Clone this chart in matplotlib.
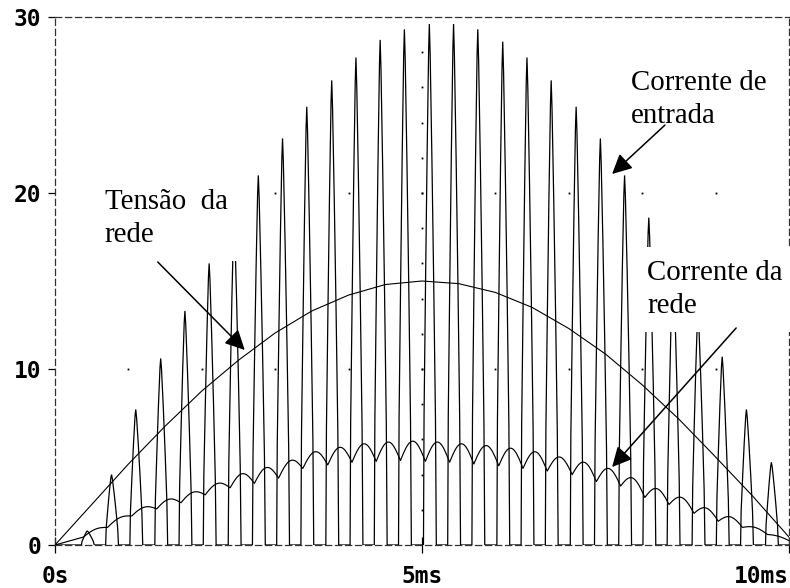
import numpy as np
import matplotlib
matplotlib.use("Agg")
import matplotlib.pyplot as plt

# ---------------- data ----------------
# time unit: ms
pulse_times = [0.44, 0.77, 1.10, 1.44, 1.77, 2.10, 2.44, 2.77, 3.10, 3.43,
               3.77, 4.10, 4.43, 4.76, 5.10, 5.43, 5.76, 6.10, 6.43, 6.76,
               7.10, 7.43, 7.76, 8.09, 8.42, 8.76, 9.09, 9.42, 9.76]
pulse_peaks = [0.8, 4.0, 7.7, 10.6, 13.3, 16.0, 18.6, 21.0, 23.1, 24.9,
               26.4, 27.7, 28.7, 29.3, 29.6, 29.6, 29.3, 28.6, 27.7, 26.4,
               24.9, 23.1, 21.0, 18.6, 16.0, 13.3, 10.7, 7.7, 4.7]

tensao_t = [0.0, 0.5, 1.0, 1.5, 2.0, 2.5, 3.0, 3.5, 4.0, 4.5, 5.0,
            5.5, 6.0, 6.5, 7.0, 7.5, 8.0, 8.5, 9.0, 9.5, 10.0]
tensao_v = [0.0, 2.3, 4.6, 6.75, 8.75, 10.5, 12.05, 13.3, 14.2, 14.8, 15.0,
            14.85, 14.35, 13.5, 12.3, 10.85, 9.1, 7.15, 5.0, 2.8, 0.45]

# line current: value at the dip before each pulse and at the hump between pulses
rede_valley = [0.45, 1.0, 1.65, 2.05, 2.4, 2.85, 3.25, 3.5, 3.8, 4.35,
               4.55, 4.7, 4.75, 4.8, 4.75, 4.7, 4.6, 4.5, 4.35, 4.2,
               4.0, 3.6, 3.35, 2.7, 2.3, 1.8, 1.35, 1.0, 0.6]
rede_top = [0.9, 1.55, 2.15, 2.6, 3.0, 3.5, 4.05, 4.4, 4.8, 5.3,
            5.55, 5.75, 5.85, 5.9, 5.85, 5.75, 5.65, 5.5, 5.3, 5.0,
            4.7, 4.35, 3.8, 3.2, 2.7, 2.1, 1.6, 1.0, 0.5]
rede_end = 0.25

x_ticks = [0, 5, 10]
x_ticklabels = ["0s", "5ms", "10ms"]
y_ticks = [0, 10, 20, 30]
y_ticklabels = ["0", "10", "20", "30"]

# ---------------- figure ----------------
W, H = 790, 588
fig = plt.figure(figsize=(W / 100, H / 100), dpi=100)
ax = fig.add_axes([55 / W, (H - 545) / H, 734 / W, 528 / H])
ax.set_xlim(0, 10)
ax.set_ylim(0, 30)

# input current pulses (shape template: fraction of half width, fraction of peak)
hw_left, hw_right = 0.08, 0.095
rise = [(-1.0, 0.0), (-0.9, 0.25), (-0.65, 0.5), (-0.38, 0.75), (-0.12, 0.95), (0.0, 1.0)]
fall = [(0.12, 0.94), (0.37, 0.74), (0.63, 0.5), (0.88, 0.24), (1.0, 0.0)]
pt, pv = [0.0], [0.0]
for tc, pk in zip(pulse_times, pulse_peaks):
    for f, h in rise:
        pt.append(tc + f * hw_left); pv.append(pk * h)
    for f, h in fall:
        pt.append(tc + f * hw_right); pv.append(pk * h)
pt.append(10.0); pv.append(0.0)
ax.plot(pt, pv, color="black", lw=0.9, zorder=3, solid_joinstyle="miter")

# mains voltage
ax.plot(tensao_t, tensao_v, color="black", lw=0.8, zorder=3)

# mains current: rounded humps between sharp dips
vt = [t - 0.054 for t in pulse_times] + [10.0]
vv = rede_valley + [rede_end]
rt, rv = [0.0], [0.0]
for k in range(len(rede_valley)):
    a, b = vt[k], vt[k + 1]
    va, vb = vv[k], vv[k + 1]
    hump = rede_top[k] - (va + vb) / 2
    s = np.linspace(0, 1, 25)
    rt.extend(a + (b - a) * s)
    rv.extend(va + (vb - va) * s + hump * np.sin(np.pi * s))
ax.plot(rt, rv, color="black", lw=0.85, zorder=3)

# dotted grid (PSpice style)
gx = [t for t in range(1, 10) for _ in (10, 20)]
gy = [y for _ in range(1, 10) for y in (10, 20)]
ax.plot(gx, gy, ls="none", marker="s", ms=1.3, mec="none", color="black", zorder=1)
ax.plot([5] * 14, list(range(2, 30, 2)), ls="none", marker="s", ms=1.3, mec="none",
        color="black", zorder=1)

# frame
for side in ["left", "top", "right", "bottom"]:
    ax.spines[side].set_linestyle((0, (5, 3)))
    ax.spines[side].set_linewidth(0.9)
    ax.spines[side].set_color("#333333")

ax.set_xticks(x_ticks)
ax.set_xticklabels(x_ticklabels)
ax.set_yticks(y_ticks)
ax.set_yticklabels(y_ticklabels)
for lab in ax.get_xticklabels() + ax.get_yticklabels():
    lab.set_fontfamily("DejaVu Sans Mono")
    lab.set_fontweight("bold")
    lab.set_fontsize(16.5)
ax.get_xticklabels()[-1].set_horizontalalignment("right")
ax.tick_params(axis="x", direction="inout", length=11, width=0.9, pad=9)
ax.tick_params(axis="y", direction="out", length=5, width=0.9, pad=5)

# annotations (y = baseline of the last line)
txt = dict(family="Liberation Serif", size=20.8, color="black", va="baseline", ha="left",
           linespacing=1.37, zorder=5,
           bbox=dict(boxstyle="square,pad=0.45", fc="white", ec="none"))
ax.text(0.68, 17.22, "Tensão  da\nrede", **txt)
ax.text(7.85, 23.98, "Corrente de\nentrada", **txt)
ax.text(8.07, 13.18, "Corrente da\nrede", clip_on=False, **txt)

arrow = dict(arrowstyle="-|>,head_length=0.6,head_width=0.3", mutation_scale=20,
             lw=1.1, color="black", shrinkA=0, shrinkB=0)
ax.annotate("", xy=(2.585, 11.08), xytext=(1.40, 16.08), arrowprops=arrow, zorder=6)
ax.annotate("", xy=(7.59, 21.08), xytext=(8.31, 23.86), arrowprops=arrow, zorder=6)
ax.annotate("", xy=(7.59, 4.43), xytext=(9.28, 12.33), arrowprops=arrow, zorder=6)

fig.savefig("out.png", dpi=100)
